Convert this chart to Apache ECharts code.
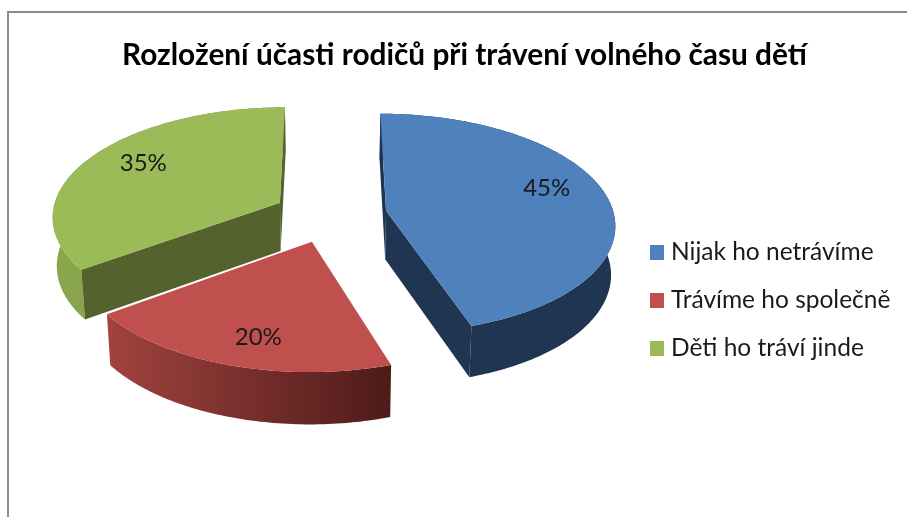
<!DOCTYPE html>
<html>
<head>
<meta charset="utf-8">
<style>html,body{margin:0;padding:0;background:#fff}#c{width:907px;height:517px}</style>
<script src="https://cdn.jsdelivr.net/npm/echarts@6/dist/echarts.min.js"></script>
</head>
<body>
<div id="c"></div>
<script>
const titleText = 'Rozložení účasti rodičů při trávení volného času dětí';
const categories = ['Nijak ho netrávíme', 'Trávíme ho společně', 'Děti ho tráví jinde'];
const values = [45, 20, 35];
const topColors = ['#4f81bd', '#c0504d', '#9bbb59'];
const wallColors = [['#1f3552', '#1f3552'], ['#a2433f', '#4d1b19'], ['#89a64c', '#7f9a45']];
const cutColors = ['#1f3552', null, '#54622e'];
const labelAngleNudge = [-7, -3, 4];
const labelRadius = [0.76, 0.78, 0.75];
const FONT = 'Lato';

// projection of the tilted, exploded pie
const X0 = 330, Y0 = 215, RX = 228, RY = 109, PERSP = 0.114, EXPLODE = 0.25, DEPTH = 48.5, BASE_SHRINK = 0.985;
const total = values.reduce((a, b) => a + b, 0);
const rad = d => d * Math.PI / 180;

function project(X, Y, low) {
  const s = 1 / (1 - PERSP * Y);
  const k = low ? BASE_SHRINK : 1;
  return [X0 + RX * X * s * k, Y0 + RY * Y * s + (low ? DEPTH * Math.sqrt(s) : 0)];
}

function sliceAngles(i) {
  const before = values.slice(0, i).reduce((a, b) => a + b, 0);
  return [before / total * 360, (before + values[i]) / total * 360];
}

function renderSlice(i) {
  const [a0, a1] = sliceAngles(i);
  const mid = rad((a0 + a1) / 2);
  const cx = EXPLODE * Math.sin(mid), cy = -EXPLODE * Math.cos(mid);
  const rim = (deg, r) => [cx + r * Math.sin(rad(deg)), cy - r * Math.cos(rad(deg))];
  const topArc = [], lowArc = [];
  for (let d = a0; d <= a1 + 1e-6; d += 1) {
    const p = rim(d, 1);
    topArc.push(project(p[0], p[1], false));
    lowArc.push(project(p[0], p[1], true));
  }
  const cT = project(cx, cy, false), cL = project(cx, cy, true);
  const face = edge => ({
    type: 'polygon',
    shape: { points: [cT, edge === 0 ? topArc[0] : topArc[topArc.length - 1], edge === 0 ? lowArc[0] : lowArc[lowArc.length - 1], cL] },
    style: { fill: cutColors[i] }
  });
  const lp = rim((a0 + a1) / 2 + labelAngleNudge[i], labelRadius[i]);
  const lpos = project(lp[0], lp[1], false);
  const faces = cutColors[i] ? [face(0), face(1)] : [];
  return {
    type: 'group',
    children: [
      { type: 'polygon', shape: { points: topArc.concat(lowArc.slice().reverse()) },
        style: { fill: new echarts.graphic.LinearGradient(0, 0, 1, 0, [
          { offset: 0, color: wallColors[i][0] }, { offset: 1, color: wallColors[i][1] }]) } }
    ].concat(faces, [
      { type: 'polygon', shape: { points: [cT].concat(topArc) }, style: { fill: topColors[i] } },
      { type: 'text', x: lpos[0], y: lpos[1],
        style: { text: Math.round(values[i] / total * 100) + '%', fill: '#1a1a1a', font: '24px ' + FONT, align: 'center', verticalAlign: 'middle' } }
    ])
  };
}

const drawOrder = [2, 0, 1];
const chart = echarts.init(document.getElementById('c'), null, { renderer: 'canvas' });
chart.setOption({
  animation: false,
  backgroundColor: '#fff',
  title: {
    text: titleText, left: 117, top: 35,
    textStyle: { fontFamily: FONT, fontWeight: 'bold', fontSize: 29.8, color: '#000' }
  },
  legend: {
    orient: 'vertical', left: 645, top: 235,
    data: categories, icon: 'rect', itemWidth: 14, itemHeight: 15, itemGap: 23,
    selectedMode: false,
    textStyle: { fontFamily: FONT, fontSize: 24.5, lineHeight: 15, color: '#1a1a1a', padding: [0, 0, 0, 2] }
  },
  graphic: [{
    type: 'polyline', silent: true,
    shape: { points: [[8, 517], [8, 12], [907, 12]] },
    style: { stroke: '#8c8c8c', lineWidth: 2, fill: null }
  }],
  series: categories.map((name, i) => ({
    type: 'custom', name, coordinateSystem: 'none', silent: true,
    z: 2 + drawOrder.indexOf(i),
    itemStyle: { color: topColors[i] },
    data: [values[i]],
    renderItem: () => renderSlice(i)
  }))
});
</script>
</body>
</html>
